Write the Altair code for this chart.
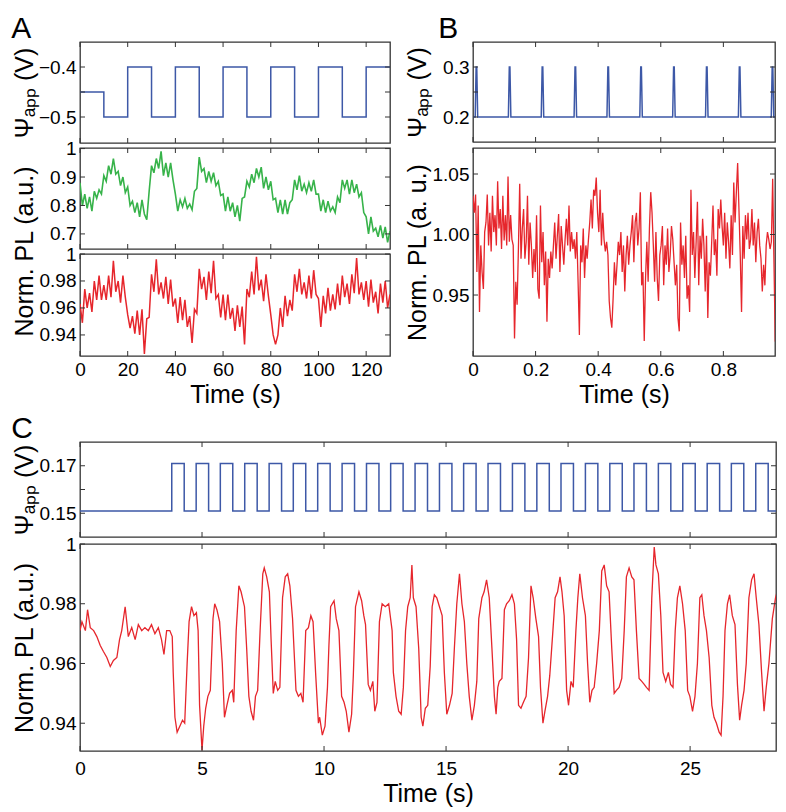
import altair as alt
import pandas as pd

FONT = "Liberation Sans"
FRAME = "#333333"
BLUE = "#3d58a7"
GREEN = "#37b34a"
RED = "#e6262c"
PSI = "Ψₐₚₚ (V)"

# ---------------- Panel A ----------------
# applied potential: step times (s) and levels (V)
a1_t = [0, 10, 20, 30, 40, 50, 60, 70, 80, 90, 100, 110, 120, 130]
a1_v = [-0.45, -0.5, -0.4, -0.5, -0.4, -0.5, -0.4, -0.5, -0.4, -0.5, -0.4, -0.5, -0.4, -0.4]

# green PL trace, one reading per second (0..130 s)
a2_v = [0.88, 0.80, 0.84, 0.79, 0.83, 0.78, 0.85, 0.825, 0.855, 0.84,
        0.905, 0.885, 0.94, 0.91, 0.965, 0.91, 0.92, 0.87, 0.90, 0.845,
        0.865, 0.80, 0.815, 0.775, 0.81, 0.76, 0.82, 0.77, 0.75, 0.85,
        0.94, 0.915, 0.965, 0.93, 0.99, 0.905, 0.95, 0.90, 0.95, 0.89,
        0.84, 0.78, 0.82, 0.795, 0.825, 0.79, 0.805, 0.785, 0.85, 0.86,
        0.97, 0.92, 0.93, 0.88, 0.92, 0.885, 0.915, 0.87, 0.885, 0.835,
        0.84, 0.78, 0.83, 0.78, 0.81, 0.76, 0.80, 0.745, 0.825, 0.83,
        0.885, 0.865, 0.91, 0.88, 0.93, 0.90, 0.935, 0.86, 0.90, 0.855,
        0.885, 0.82, 0.825, 0.775, 0.82, 0.77, 0.82, 0.77, 0.81, 0.82,
        0.89, 0.855, 0.905, 0.85, 0.875, 0.845, 0.88, 0.85, 0.89, 0.84,
        0.84, 0.78, 0.82, 0.775, 0.815, 0.78, 0.795, 0.775, 0.83, 0.81,
        0.89, 0.86, 0.89, 0.84, 0.89, 0.845, 0.875, 0.83, 0.845, 0.775,
        0.76, 0.70, 0.76, 0.71, 0.72, 0.69, 0.73, 0.685, 0.725, 0.67,
        0.71]

# red PL trace, one reading per second (0..130 s)
a3_v = [0.963, 0.949, 0.974, 0.960, 0.971, 0.957, 0.980, 0.966, 0.984, 0.966,
        0.977, 0.966, 0.984, 0.968, 0.995, 0.972, 0.980, 0.964, 0.984, 0.968,
        0.955, 0.945, 0.954, 0.941, 0.958, 0.940, 0.959, 0.926, 0.952, 0.953,
        0.985, 0.972, 0.996, 0.970, 0.979, 0.967, 0.983, 0.963, 0.981, 0.961,
        0.967, 0.949, 0.968, 0.951, 0.966, 0.946, 0.954, 0.934, 0.959, 0.956,
        0.989, 0.974, 0.983, 0.966, 0.987, 0.971, 0.995, 0.967, 0.970, 0.953,
        0.970, 0.951, 0.970, 0.952, 0.960, 0.943, 0.962, 0.946, 0.961, 0.933,
        0.974, 0.968, 0.987, 0.970, 0.998, 0.973, 0.981, 0.965, 0.985, 0.969,
        0.955, 0.940, 0.933, 0.940, 0.960, 0.946, 0.969, 0.954, 0.966, 0.958,
        0.985, 0.972, 0.989, 0.970, 0.979, 0.967, 0.984, 0.967, 0.988, 0.970,
        0.967, 0.946, 0.969, 0.956, 0.975, 0.958, 0.970, 0.959, 0.978, 0.962,
        0.984, 0.968, 0.978, 0.963, 0.985, 0.971, 0.997, 0.970, 0.979, 0.966,
        0.980, 0.961, 0.981, 0.964, 0.972, 0.956, 0.978, 0.964, 0.980, 0.960,
        0.970]

# ---------------- Panel B ----------------
b1_t = [0.000, 0.007, 0.010, 0.012, 0.015, 0.113, 0.116, 0.118, 0.121,
        0.218, 0.221, 0.223, 0.226, 0.323, 0.326, 0.328, 0.331,
        0.428, 0.431, 0.433, 0.436, 0.533, 0.536, 0.538, 0.541,
        0.638, 0.641, 0.643, 0.646, 0.743, 0.746, 0.748, 0.751,
        0.848, 0.851, 0.853, 0.856, 0.953, 0.956, 0.958, 0.961, 0.970]
b1_v = [0.2, 0.2, 0.3, 0.3, 0.2, 0.2, 0.3, 0.3, 0.2,
        0.2, 0.3, 0.3, 0.2, 0.2, 0.3, 0.3, 0.2,
        0.2, 0.3, 0.3, 0.2, 0.2, 0.3, 0.3, 0.2,
        0.2, 0.3, 0.3, 0.2, 0.2, 0.3, 0.3, 0.2,
        0.2, 0.3, 0.3, 0.2, 0.2, 0.3, 0.3, 0.2, 0.2]

# fast PL trace, evenly sampled over 0..0.97 s
b2_v = [1.032, 1.018, 1.033, 0.969, 1.024, 0.936, 0.991, 0.969, 0.955, 1.002,
        1.010, 1.033, 0.991, 1.018, 0.986, 1.032, 1.002, 1.016, 0.991, 1.044,
        1.005, 1.021, 0.988, 1.032, 0.995, 1.016, 0.991, 1.048, 0.994, 1.016,
        0.996, 0.991, 0.914, 0.961, 0.942, 0.988, 1.042, 0.980, 1.005, 1.021,
        0.980, 0.994, 1.032, 0.975, 1.010, 0.991, 0.964, 0.988, 0.969, 1.016,
        0.955, 0.947, 1.024, 0.977, 1.002, 0.958, 0.986, 0.928, 0.980, 0.964,
        0.986, 0.972, 0.991, 1.010, 0.980, 0.999, 1.017, 0.969, 1.007, 0.991,
        0.975, 0.996, 1.013, 0.991, 1.024, 0.986, 1.002, 0.988, 0.996, 0.980,
        1.002, 0.961, 0.917, 0.991, 0.977, 1.005, 0.964, 0.991, 0.980, 0.996,
        1.010, 1.029, 1.005, 1.037, 1.032, 1.047, 1.018, 1.002, 1.037, 0.991,
        1.018, 0.996, 0.986, 0.994, 0.983, 0.945, 0.931, 0.923, 0.947, 0.977,
        0.958, 0.975, 0.994, 0.983, 1.002, 0.969, 0.991, 0.953, 0.983, 0.999,
        0.975, 0.991, 1.002, 1.016, 0.977, 1.010, 1.018, 0.991, 1.005, 1.035,
        0.958, 0.969, 0.912, 0.964, 0.994, 0.961, 1.005, 1.035, 1.018, 0.991,
        0.961, 1.002, 0.964, 0.945, 0.983, 0.991, 1.007, 0.958, 0.991, 0.975,
        1.005, 0.969, 0.983, 1.007, 0.996, 0.977, 0.958, 0.975, 0.931, 0.920,
        1.010, 0.975, 0.991, 0.964, 0.999, 0.947, 0.958, 0.936, 1.037, 0.983,
        1.002, 0.964, 0.994, 1.027, 0.958, 0.999, 0.980, 1.013, 0.991, 0.953,
        0.999, 0.931, 0.977, 0.966, 0.994, 1.024, 0.983, 0.996, 0.966, 1.021,
        1.005, 1.029, 1.007, 0.991, 1.018, 0.980, 1.010, 0.994, 0.972, 1.016,
        0.983, 1.043, 1.010, 1.035, 1.059, 1.021, 0.983, 0.936, 1.007, 0.980,
        1.016, 0.996, 1.018, 0.988, 0.996, 1.021, 0.991, 1.010, 0.977, 1.002,
        1.013, 0.991, 0.980, 0.953, 0.975, 0.958, 0.991, 1.002, 0.996, 0.988,
        0.994, 1.046, 0.977, 0.912, 0.909]

# ---------------- Panel C ----------------
c1_rise = [3.76, 4.76, 5.75, 6.75, 7.75, 8.74, 9.74, 10.74, 11.74, 12.73, 13.73, 14.73,
           15.72, 16.72, 17.72, 18.72, 19.71, 20.71, 21.71, 22.70, 23.70, 24.70, 25.70,
           26.69, 27.69]
c1_fall = [4.27, 5.27, 6.26, 7.26, 8.26, 9.25, 10.25, 11.25, 12.25, 13.24, 14.24, 15.24,
           16.23, 17.23, 18.23, 19.23, 20.22, 21.22, 22.22, 23.21, 24.21, 25.21, 26.21,
           27.20, 28.20]
c1_low, c1_high = 0.151, 0.171

c2_first = [
    (0.00, 0.971), (0.08, 0.974), (0.22, 0.971), (0.31, 0.978), (0.42, 0.972), (0.56, 0.971),
    (0.69, 0.969), (0.83, 0.966), (0.96, 0.964), (1.10, 0.962), (1.24, 0.959), (1.37, 0.961),
    (1.51, 0.962), (1.62, 0.968), (1.71, 0.971), (1.85, 0.979), (1.98, 0.969), (2.12, 0.972),
    (2.26, 0.968), (2.39, 0.973), (2.53, 0.971), (2.66, 0.972), (2.80, 0.971), (2.93, 0.973),
    (3.07, 0.970), (3.21, 0.972), (3.34, 0.968), (3.44, 0.963), (3.55, 0.971), (3.68, 0.971),
    (3.78, 0.969), (3.82, 0.957), (3.89, 0.942), (3.98, 0.937), (4.09, 0.939), (4.20, 0.941),
    (4.29, 0.940), (4.39, 0.960), (4.47, 0.974), (4.57, 0.979), (4.67, 0.976), (4.77, 0.977),
    (4.84, 0.971), (4.90, 0.946), (5.00, 0.931), (5.07, 0.939), (5.15, 0.945), (5.24, 0.949),
    (5.34, 0.951), (5.45, 0.975), (5.52, 0.980), (5.61, 0.978), (5.72, 0.974), (5.83, 0.960),
    (5.92, 0.942), (6.02, 0.946), (6.13, 0.950), (6.24, 0.951), (6.30, 0.947), (6.40, 0.971),
    (6.51, 0.986), (6.60, 0.984), (6.74, 0.979), (6.83, 0.965), (6.92, 0.949), (7.01, 0.944),
    (7.11, 0.941), (7.19, 0.949), (7.28, 0.951), (7.38, 0.971), (7.49, 0.990), (7.55, 0.992),
    (7.65, 0.989), (7.76, 0.984), (7.83, 0.968), (7.92, 0.950), (8.00, 0.954), (8.10, 0.951),
    (8.19, 0.952), (8.30, 0.982), (8.41, 0.989), (8.51, 0.990), (8.60, 0.986), (8.71, 0.975),
    (8.85, 0.951), (8.95, 0.949), (9.05, 0.950), (9.14, 0.947), (9.25, 0.971), (9.36, 0.972),
    (9.46, 0.976), (9.55, 0.974), (9.66, 0.956), (9.77, 0.940), (9.82, 0.942), (9.93, 0.936),
    (10.04, 0.939), (10.14, 0.952), (10.20, 0.966), (10.27, 0.979), (10.41, 0.981), (10.50, 0.975),
    (10.61, 0.971), (10.72, 0.949), (10.82, 0.947), (10.91, 0.944), (11.02, 0.937), (11.13, 0.943),
    (11.20, 0.956), (11.29, 0.979), (11.43, 0.984), (11.54, 0.981), (11.63, 0.976), (11.70, 0.973),
    (11.81, 0.953), (11.90, 0.951), (12.00, 0.954), (12.08, 0.944), (12.17, 0.947), (12.27, 0.974),
    (12.38, 0.980), (12.51, 0.979), (12.65, 0.980), (12.79, 0.971)]

c2_second = [
    (12.84, 0.957), (12.95, 0.949), (13.06, 0.944), (13.16, 0.943), (13.25, 0.952), (13.34, 0.971),
    (13.43, 0.979), (13.53, 0.982), (13.60, 0.993), (13.66, 0.982), (13.77, 0.979), (13.88, 0.965),
    (13.98, 0.942), (14.05, 0.939), (14.15, 0.945), (14.25, 0.946), (14.35, 0.959), (14.43, 0.979),
    (14.52, 0.983), (14.62, 0.982), (14.73, 0.979), (14.84, 0.976), (14.93, 0.957), (15.03, 0.943),
    (15.14, 0.946), (15.25, 0.950), (15.34, 0.965), (15.44, 0.980), (15.55, 0.990), (15.65, 0.980),
    (15.75, 0.974), (15.85, 0.960), (15.95, 0.949), (16.06, 0.941), (16.16, 0.946), (16.26, 0.954),
    (16.34, 0.975), (16.47, 0.982), (16.56, 0.984), (16.66, 0.988), (16.77, 0.982), (16.88, 0.965),
    (16.98, 0.949), (17.05, 0.943), (17.12, 0.952), (17.18, 0.954), (17.29, 0.955), (17.39, 0.978),
    (17.48, 0.980), (17.59, 0.981), (17.70, 0.983), (17.80, 0.980), (17.89, 0.968), (17.97, 0.946),
    (18.07, 0.945), (18.17, 0.947), (18.28, 0.949), (18.38, 0.962), (18.48, 0.986), (18.57, 0.982),
    (18.68, 0.975), (18.79, 0.969), (18.87, 0.952), (18.97, 0.940), (19.05, 0.944), (19.16, 0.949),
    (19.25, 0.956), (19.37, 0.970), (19.47, 0.982), (19.57, 0.984), (19.67, 0.989), (19.75, 0.984),
    (19.84, 0.976), (19.94, 0.951), (20.02, 0.946), (20.12, 0.954), (20.21, 0.952), (20.32, 0.971),
    (20.40, 0.982), (20.48, 0.990), (20.59, 0.982), (20.71, 0.976), (20.80, 0.960), (20.89, 0.947),
    (20.98, 0.951), (21.07, 0.952), (21.17, 0.960), (21.28, 0.971), (21.38, 0.991), (21.48, 0.993),
    (21.58, 0.986), (21.68, 0.984), (21.79, 0.965), (21.89, 0.950), (21.98, 0.951), (22.09, 0.952),
    (22.20, 0.955), (22.30, 0.971), (22.39, 0.989), (22.50, 0.992), (22.61, 0.989), (22.70, 0.988),
    (22.80, 0.971), (22.91, 0.955), (23.02, 0.954), (23.12, 0.953), (23.21, 0.952), (23.32, 0.951),
    (23.43, 0.982), (23.53, 0.999), (23.60, 0.993), (23.70, 0.990), (23.80, 0.976), (23.89, 0.957),
    (24.00, 0.954), (24.11, 0.957), (24.20, 0.953), (24.30, 0.952), (24.39, 0.971), (24.48, 0.982),
    (24.58, 0.986), (24.69, 0.980), (24.80, 0.971), (24.90, 0.951), (24.99, 0.949), (25.10, 0.944),
    (25.20, 0.949), (25.30, 0.960), (25.40, 0.982), (25.48, 0.983), (25.57, 0.976), (25.67, 0.971),
    (25.78, 0.962), (25.89, 0.946), (25.98, 0.942), (26.08, 0.940), (26.19, 0.937), (26.27, 0.936),
    (26.35, 0.949), (26.43, 0.971), (26.53, 0.980), (26.62, 0.983), (26.73, 0.976), (26.84, 0.973),
    (26.94, 0.953), (27.03, 0.941), (27.11, 0.946), (27.21, 0.951), (27.30, 0.960), (27.41, 0.982),
    (27.52, 0.988), (27.62, 0.990), (27.71, 0.982), (27.82, 0.973), (27.93, 0.957), (28.03, 0.944),
    (28.12, 0.952), (28.23, 0.960), (28.37, 0.975), (28.50, 0.982), (28.60, 0.985), (28.70, 0.984),
    (28.80, 0.983)]

# ---------------- axis ticks ----------------
ax_ticks = [0, 20, 40, 60, 80, 100, 120]
bx_ticks = [0, 0.2, 0.4, 0.6, 0.8]
cx_ticks = [0, 5, 10, 15, 20, 25]

# ---------------- tables ----------------
a1_df = pd.DataFrame({"t": a1_t, "v": a1_v})
a2_df = pd.DataFrame({"t": list(range(len(a2_v))), "v": a2_v})
a3_df = pd.DataFrame({"t": list(range(len(a3_v))), "v": a3_v})
b1_df = pd.DataFrame({"t": b1_t, "v": b1_v})
b2_df = pd.DataFrame({"t": [i * 0.97 / (len(b2_v) - 1) for i in range(len(b2_v))], "v": b2_v})
c1_t, c1_v = [0.0], [c1_low]
for r, f in zip(c1_rise, c1_fall):
    c1_t += [r, f]
    c1_v += [c1_high, c1_low]
c1_t.append(28.8)
c1_v.append(c1_low)
c1_df = pd.DataFrame({"t": c1_t, "v": c1_v})
c2_df = pd.DataFrame(c2_first + c2_second, columns=["t", "v"])


def make_panel(df, color, w, h, xdom, ydom, xticks, yticks, ylab_vals, yfmt,
               ytitle=None, title_y=None, xfmt=None, lab_pad=4, tit_pad=3,
               step=False, sw=1.3):
    xs = alt.Scale(domain=xdom, nice=False, zero=False)
    ys = alt.Scale(domain=ydom, nice=False, zero=False)
    mark_kw = {"color": color, "strokeWidth": sw, "clip": True}
    if step:
        mark_kw["interpolate"] = "step-after"
    yax = {"orient": "left", "values": ylab_vals, "format": yfmt, "ticks": False,
           "tickSize": 0, "domain": False, "labelPadding": 4, "minExtent": 42,
           "maxExtent": 42, "titlePadding": 1, "title": ytitle}
    if title_y is not None:
        yax["titleY"] = title_y
    if xfmt is not None:
        xax = alt.Axis(orient="bottom", values=xticks, format=xfmt, ticks=False, tickSize=0,
                       domain=False, labelPadding=lab_pad, title="Time (s)",
                       titlePadding=tit_pad)
    else:
        xax = None
    main = alt.Chart(df).mark_line(**mark_kw).encode(
        x=alt.X("t:Q", scale=xs, axis=xax),
        y=alt.Y("v:Q", scale=ys, axis=alt.Axis(**yax)))

    # inward-pointing tick marks on all four sides, placed through the scales
    ydf = pd.DataFrame({"v": yticks})
    xdf = pd.DataFrame({"t": xticks})
    rk = {"color": FRAME, "strokeWidth": 1}
    tl = alt.Chart(ydf).mark_rule(**rk).encode(
        y=alt.Y("v:Q", scale=ys, axis=None), x=alt.value(0), x2=alt.value(5))
    tr = alt.Chart(ydf).mark_rule(**rk).encode(
        y=alt.Y("v:Q", scale=ys, axis=None), x=alt.value(w - 5), x2=alt.value(w))
    tt = alt.Chart(xdf).mark_rule(**rk).encode(
        x=alt.X("t:Q", scale=xs, axis=None), y=alt.value(0), y2=alt.value(5))
    tb = alt.Chart(xdf).mark_rule(**rk).encode(
        x=alt.X("t:Q", scale=xs, axis=None), y=alt.value(h - 5), y2=alt.value(h))
    return (alt.layer(main, tl, tr, tt, tb)
            .resolve_axis(x="independent", y="independent")
            .properties(width=w, height=h))


def letter(txt, dx):
    return alt.TitleParams(txt, anchor="start", fontSize=30, fontWeight="normal",
                           font=FONT, color="black", dx=dx, offset=-3)


A1 = make_panel(a1_df, BLUE, 310, 101, [0, 130], [-0.552, -0.35], ax_ticks,
                [-0.5, -0.45, -0.4], [-0.5, -0.4], ".1f", ytitle=PSI, step=True, sw=1.5)
A2 = make_panel(a2_df, GREEN, 310, 101, [0, 130], [0.647, 1.002], ax_ticks,
                [0.7, 0.8, 0.9, 1.0], [0.7, 0.8, 0.9, 1.0], ".2~f",
                ytitle="Norm. PL (a.u.)", title_y=103, sw=1.6)
A3 = make_panel(a3_df, RED, 310, 102, [0, 130], [0.9244, 1.0], ax_ticks,
                [0.94, 0.96, 0.98, 1.0], [0.94, 0.96, 0.98, 1.0], ".2~f", xfmt="d", sw=1.5)

B1 = make_panel(b1_df, BLUE, 302, 100, [0, 0.965], [0.15, 0.35], bx_ticks,
                [0.2, 0.25, 0.3], [0.2, 0.3], ".1f", ytitle=PSI, sw=1.5)
B2 = make_panel(b2_df, RED, 302, 208, [0, 0.965], [0.8996, 1.0715], bx_ticks,
                [0.95, 1.0, 1.05], [0.95, 1.0, 1.05], ".2f",
                ytitle="Norm. PL (a. u.)", xfmt=".1~f")

C1 = make_panel(c1_df, BLUE, 696, 95, [0, 28.52], [0.14, 0.18], cx_ticks,
                [0.15, 0.16, 0.17], [0.15, 0.17], ".2f", ytitle=PSI, step=True, sw=1.5)
C2 = make_panel(c2_df, RED, 696, 207, [0, 28.52], [0.9307, 1.0], cx_ticks,
                [0.94, 0.96, 0.98, 1.0], [0.94, 0.96, 0.98, 1.0], ".2~f",
                ytitle="Norm. PL (a.u.)", xfmt="d", lab_pad=8, tit_pad=3)

A_col = alt.vconcat(A1, A2, A3, spacing=5, bounds="flush").properties(title=letter("A", 0))
B_col = alt.vconcat(B1, B2, spacing=6, bounds="flush").properties(title=letter("B", 34))
C_col = alt.vconcat(C1, C2, spacing=7, bounds="flush").properties(title=letter("C", 0))

top = alt.hconcat(A_col, B_col, spacing=12)
chart = (alt.vconcat(top, C_col, spacing=5)
         .properties(padding={"top": 5, "bottom": 0, "left": 3, "right": 0})
         .configure(font=FONT)
         .configure_axis(labelFont=FONT, titleFont=FONT, labelFontSize=19, titleFontSize=25,
                         labelColor="black", titleColor="black", titleFontWeight="normal",
                         grid=False, labelFlush=False, labelOverlap=False)
         .configure_view(stroke=FRAME, strokeWidth=1.3))

chart.save("out.html", embed_options={"renderer": "svg", "actions": False})
